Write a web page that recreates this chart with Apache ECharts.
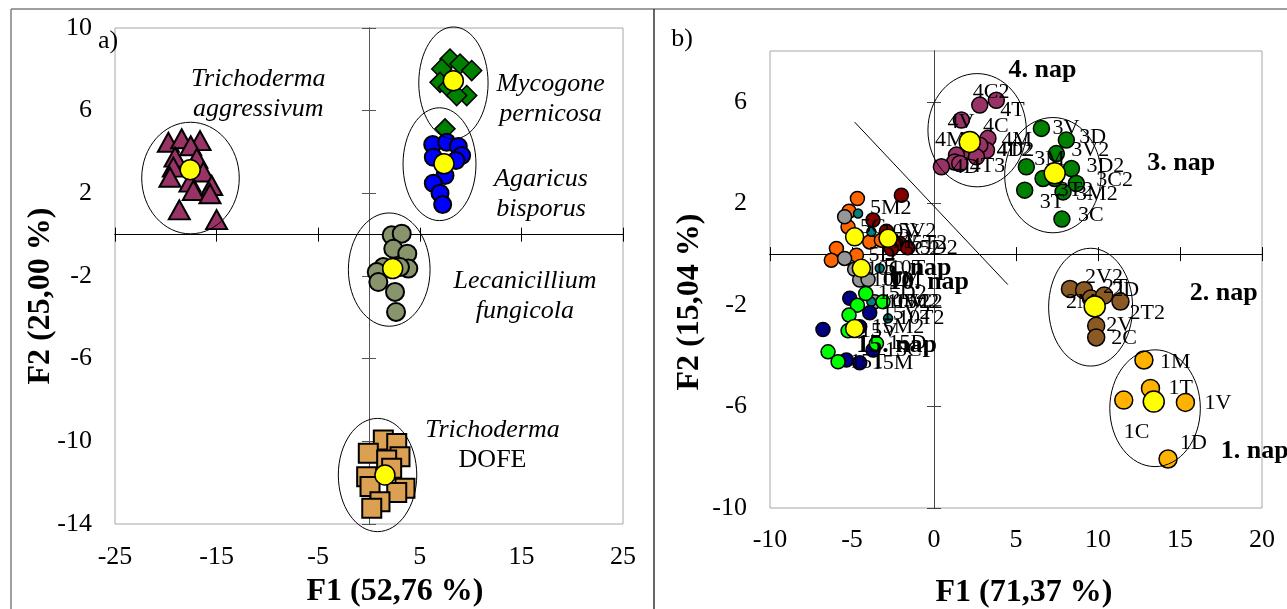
<!DOCTYPE html>
<html><head><meta charset="utf-8">
<script src="https://cdn.jsdelivr.net/npm/echarts@6/dist/echarts.min.js"></script>
<style>html,body{margin:0;padding:0;background:#fff}#c{width:1287px;height:609px}</style>
</head><body><div id="c"></div>
<script>
// ---------- Panel a data ----------
const aXTicks = [-25, -15, -5, 5, 15, 25];
const aYTicks = [-14, -10, -6, -2, 2, 6, 10];
const aggressivum = [[-19.75,4.47],[-18.44,4.64],[-16.63,4.55],[-17.55,4.3],[-19.09,3.75],[-16.95,3.69],[-19.26,3.27],[-19.59,2.78],[-16.31,3.03],[-17.62,2.54],[-17.29,2.14],[-15.48,2.38],[-15.65,1.98],[-18.67,1.2],[-15.0,0.73]];
const pernicosa = [[7.97,8.5],[8.96,8.26],[10.11,7.94],[7.16,8.02],[6.99,7.37],[7.8,7.13],[9.62,6.73],[8.63,6.73],[7.48,5.12]];
const bisporus = [[6.27,4.36],[7.65,4.47],[8.79,4.27],[9.12,3.83],[6.33,3.75],[8.56,3.59],[7.48,2.86],[6.33,2.49],[6.99,2.01],[7.25,1.46]];
const fungicola = [[2.23,-0.03],[3.22,0.05],[2.39,-0.68],[3.77,-0.92],[3.87,-1.64],[3.05,-1.57],[1.41,-1.57],[0.76,-1.81],[0.92,-2.29],[2.56,-2.77],[2.66,-3.74]];
const dofe = [[1.41,-9.94],[2.73,-10.1],[-0.07,-10.58],[3.05,-10.74],[1.74,-10.9],[2.23,-11.3],[-0.23,-11.71],[0.1,-12.19],[3.54,-12.27],[2.73,-12.48],[1.08,-12.92],[0.27,-13.24]];
const aCentroids = [[-17.6,3.14],[8.3,7.45],[7.38,3.43],[2.33,-1.64],[1.57,-11.63]];
const aEllipses = [[-17.57,2.74,4.8,2.7],[8.31,7.34,3.41,2.71],[6.94,3.41,3.59,2.73],[1.99,-1.69,4.02,2.74],[0.84,-11.63,3.86,2.74]];
const aNotes = [[-10.9,6.81,'Trichoderma','aggressivum'],[17.87,6.57,'Mycogone','pernicosa'],[16.93,1.98,'Agaricus','bisporus'],[15.35,-3.0,'Lecanicillium','fungicola'],[12.16,-10.2,'Trichoderma','DOFE']];

// ---------- Panel b data ----------
const bXTicks = [-10, -5, 0, 5, 10, 15, 20];
const bYTicks = [-10, -6, -2, 2, 6];
const nap1 = [[12.8,-4.17,'1M'],[13.2,-5.29,'1T'],[11.57,-5.75,'1C'],[15.33,-5.84,'1V'],[14.27,-8.07,'1D']];
const nap2 = [[8.29,-1.37,'2M'],[9.15,-1.42,'2V2'],[9.57,-1.75,'2T'],[10.38,-1.63,'2D'],[11.37,-1.87,'2T2'],[9.89,-2.82,'2V'],[9.89,-3.28,'2C']];
const nap3 = [[6.55,4.95,'3V'],[8.07,4.49,'3D'],[7.46,3.96,'3V2'],[5.63,3.44,'3M'],[8.38,3.37,'3D2'],[8.68,2.78,'3C2'],[7.87,2.45,'3M2'],[5.53,2.52,'3T'],[7.36,2.98,'3T2'],[6.65,2.98,''],[7.8,1.38,'3C']];
const nap4 = [[3.8,6.06,'4T'],[2.79,5.87,'4C2'],[1.67,5.28,'4V'],[3.29,4.56,'4C'],[3.2,4.09,'4M'],[2.07,4.09,'4M2'],[2.79,4.29,'4T2'],[2.59,3.83,'4D2'],[1.37,3.9,''],[1.26,3.63,'4D'],[1.57,3.57,'4T3'],[0.45,3.44,'']];
const nap5 = [[-4.67,2.19,''],[-5.18,1.69,''],[-5.24,1.07,'5C'],[-5.95,0.22,''],[-6.26,-0.24,''],[-4.73,-0.04,'5D'],[-3.92,0.48,'5M'],[-3.21,0.55,'5V']];
const nap5b = [[-1.99,2.32,''],[-3.72,1.34,'5M2'],[-2.09,0.42,'5T2'],[-1.6,0.25,'5D2'],[-2.6,0.2,'5C2'],[-2.9,0.9,'5V2']];
const nap10 = [[-5.45,1.47,''],[-5.45,-0.17,''],[-4.84,-0.6,'10C'],[-4.53,-1.02,'10D'],[-4.02,-1.0,'10M'],[-3.62,-1.88,'10M2']];
const nap10b = [[-4.63,1.6,''],[-3.82,0.88,'10V'],[-3.31,-0.56,'10T'],[-3.82,-1.88,'10V2'],[-2.8,-2.53,'10T2']];
const nap15 = [[-5.14,-1.74,''],[-6.77,-2.97,''],[-3.92,-2.31,'15V2'],[-5.34,-4.17,''],[-4.53,-4.28,'15M'],[-3.72,-3.78,'15C'],[-4.53,-2.86,'15M2']];
const nap15b = [[-4.16,-1.55,'15D2'],[-4.67,-2.01,''],[-5.18,-2.4,''],[-5.24,-3.02,'15V'],[-6.46,-3.85,''],[-5.85,-4.24,'15T'],[-3.11,-1.88,'15C2'],[-3.51,-3.52,'15D']];
const bCentroids = [[13.4,-5.81],[9.8,-2.06],[7.36,3.18],[2.18,4.42]];
const bCentroidsLeft = [[-4.84,0.68],[-4.43,-0.56],[-2.8,0.62],[-4.84,-2.93]];
const bEllipses = [[13.48,-6.07,2.76,2.3],[9.55,-2.09,2.56,2.32],[7.25,3.11,2.94,2.27],[2.63,4.88,3.0,2.23]];
const divider = [[-4.84,5.2],[4.5,-1.2]];
const napNames = [[6.61,7.24,'4. nap'],[15.08,3.59,'3. nap'],[17.67,-1.55,'2. nap'],[19.56,-7.78,'1. nap'],[-1.0,-0.55,'5. nap'],[-0.33,-1.1,'10. nap'],[-2.28,-3.58,'15. nap']];

// label placement (style): text-left / text-middle offset from point centre, px
const labelOffset = {
 '1M':[16,2],'1T':[18,0],'1V':[19,1],'1C':[0,32],'1D':[12,-16],
 '2M':[-4,13],'2V2':[1,-13],'2T':[12,-11],'2D':[8,-5],'2T2':[9,12],'2V':[10,0],'2C':[15,1],
 '3V':[11,0],'3D':[13,-3],'3V2':[15,-3],'3M':[8,-8],'3D2':[15,-2],'3C2':[20,-3],'3M2':[13,2],'3T':[15,12],'3T2':[3,12],'3C':[16,-4],
 '4C2':[-7,-13],'4T':[4,10],'4V':[-14,2],'4C':[-5,-12],'4M':[15,-10],'4M2':[-33,-10],'4D2':[20,-7],'4T2':[17,5],'4D':[-2,5],'4T3':[10,3],
 '5M2':[-3,-12]
};

const FONT = "'Liberation Serif','Times New Roman',serif";

function labelAxis(grid, min, max, values, margin, pos) {
  return {type:'value', gridIndex:grid, min:min, max:max, position:pos,
    axisLine:{show:false,onZero:false}, axisTick:{show:false}, splitLine:{show:false},
    axisLabel:{show:true, customValues:values, margin:margin, fontSize:26, fontFamily:FONT, color:'#000'}};
}
function zeroAxis(grid, min, max, values, pos, onZeroIdx, color) {
  return {type:'value', gridIndex:grid, min:min, max:max, position:pos,
    axisLine:{show:true,onZero:true,onZeroAxisIndex:onZeroIdx,lineStyle:{color:color,width:1}},
    axisTick:{show:true,customValues:values,length:7,lineStyle:{color:color,width:1}},
    axisLabel:{show:false}, splitLine:{show:false}};
}

function aScatter(data, symbol, size, color, bw) {
  return {type:'scatter', xAxisIndex:0, yAxisIndex:0, symbol:symbol, symbolSize:size, silent:true,
    itemStyle:{color:color, borderColor:'#000', borderWidth:bw, opacity:1}, data:data, z:3};
}
function bScatter(data, color, size, fs) {
  return {type:'scatter', xAxisIndex:3, yAxisIndex:3, symbol:'circle', symbolSize:size, silent:true,
    itemStyle:{color:color, borderColor:'#000', borderWidth:1.5, opacity:1},
    data:data.map(d => ({value:[d[0],d[1]], name:d[2], label:{offset: labelOffset[d[2]] || [Math.round(size/2)+5,0]}})),
    label:{show:true, position:'inside', align:'left', verticalAlign:'middle', formatter:p => p.name,
      fontFamily:FONT, fontSize:fs || 22, color:'#000'},
    z:3};
}
function ellipseSeries(xi, data) {
  return {type:'custom', xAxisIndex:xi, yAxisIndex:xi, coordinateSystem:'cartesian2d', silent:true, clip:false, z:6,
    data:data,
    renderItem:function(params, api){
      const c = api.coord([api.value(0), api.value(1)]);
      const s = api.size([api.value(2), api.value(3)]);
      return {type:'ellipse', shape:{cx:c[0], cy:c[1], rx:s[0], ry:s[1]}, style:{fill:null, stroke:'#000', lineWidth:1}};
    }};
}

const chart = echarts.init(document.getElementById('c'), null, {renderer:'canvas'});
chart.setOption({
  animation:false,
  backgroundColor:'#fff',
  grid:[
    {left:115, top:28, width:508, height:496, show:true, borderColor:'#a6a6a6', borderWidth:1, backgroundColor:'transparent'},
    {left:770, top:51, width:492, height:457, show:true, borderColor:'#a6a6a6', borderWidth:1, backgroundColor:'transparent'}
  ],
  xAxis:[
    labelAxis(0,-25,25,aXTicks,20,'bottom'),
    zeroAxis(0,-25,25,aXTicks,'bottom',0,'#000'),
    zeroAxis(0,-25,25,aXTicks,'top',0,'#000'),
    labelAxis(1,-10,20,bXTicks,19,'bottom'),
    zeroAxis(1,-10,20,bXTicks,'bottom',3,'#000'),
    zeroAxis(1,-10,20,bXTicks,'top',3,'#000')
  ],
  yAxis:[
    labelAxis(0,-14,10,aYTicks,23,'left'),
    zeroAxis(0,-14,10,aYTicks,'left',0,'#555'),
    zeroAxis(0,-14,10,aYTicks,'right',0,'#555'),
    labelAxis(1,-10,8,bYTicks,23,'left'),
    zeroAxis(1,-10,8,bYTicks,'left',3,'#444'),
    zeroAxis(1,-10,8,bYTicks,'right',3,'#444')
  ],
  graphic:[
    {type:'line', shape:{x1:11,y1:9,x2:1287,y2:9}, style:{stroke:'#7f7f7f', lineWidth:1.5}},
    {type:'line', shape:{x1:11,y1:9,x2:11,y2:609}, style:{stroke:'#7f7f7f', lineWidth:1.5}},
    {type:'line', shape:{x1:654,y1:9,x2:654,y2:609}, style:{stroke:'#333', lineWidth:1.5}},
    {type:'text', x:108, y:41, style:{text:'a)', font:'26px '+FONT, fill:'#000', align:'center', verticalAlign:'middle', textAlign:'center', textVerticalAlign:'middle'}},
    {type:'text', x:682, y:39, style:{text:'b)', font:'26px '+FONT, fill:'#000', align:'center', verticalAlign:'middle', textAlign:'center', textVerticalAlign:'middle'}},
    {type:'text', x:395, y:592, style:{text:'F1 (52,76 %)', font:'bold 32px '+FONT, fill:'#000', align:'center', verticalAlign:'middle', textAlign:'center', textVerticalAlign:'middle'}},
    {type:'text', x:1024, y:593, style:{text:'F1 (71,37 %)', font:'bold 32px '+FONT, fill:'#000', align:'center', verticalAlign:'middle', textAlign:'center', textVerticalAlign:'middle'}},
    {type:'text', x:41, y:296, rotation:Math.PI/2, style:{text:'F2 (25,00 %)', font:'bold 32px '+FONT, fill:'#000', align:'center', verticalAlign:'middle', textAlign:'center', textVerticalAlign:'middle'}},
    {type:'text', x:690, y:302, rotation:Math.PI/2, style:{text:'F2 (15,04 %)', font:'bold 32px '+FONT, fill:'#000', align:'center', verticalAlign:'middle', textAlign:'center', textVerticalAlign:'middle'}}
  ],
  series:[
    aScatter(aggressivum,'triangle',[21,19],'#993366',2),
    aScatter(pernicosa,'diamond',20,'#008000',1.5),
    aScatter(bisporus,'circle',17,'#0000ff',2),
    aScatter(fungicola,'circle',18,'#88946c',2),
    aScatter(dofe,'rect',19,'#dba052',2),
    Object.assign(aScatter(aCentroids,'circle',20,'#ffff00',1.5),{z:5}),
    ellipseSeries(0,aEllipses),
    {type:'scatter', xAxisIndex:0, yAxisIndex:0, symbolSize:1, silent:true, z:7,
      itemStyle:{color:'rgba(0,0,0,0)', opacity:1},
      data:aNotes.map(n => ({value:[n[0],n[1]], name:n[2]+'\n'+n[3]})),
      label:{show:true, position:'inside', align:'center', verticalAlign:'middle', opacity:1,
        formatter:p => p.name.split('\n').map(w => /^[A-Z]+$/.test(w) ? '{n|'+w+'}' : '{i|'+w+'}').join('\n'),
        rich:{i:{fontStyle:'italic', fontSize:26, fontFamily:FONT, lineHeight:30, color:'#000'},
              n:{fontSize:26, fontFamily:FONT, lineHeight:30, color:'#000'}}}},

    {type:'line', xAxisIndex:3, yAxisIndex:3, data:divider, symbol:'none', silent:true, lineStyle:{color:'#000', width:1}, z:2},
    bScatter(nap5,'#ff6600',14),
    bScatter(nap10,'#969696',14),
    bScatter(nap10b,'#008080',9),
    bScatter(nap5b,'#800000',14),
    bScatter(nap15,'#000080',14),
    bScatter(nap15b,'#00ff00',14),
    bScatter(nap1,'#ffb300',18),
    bScatter(nap2,'#8b5a24',17),
    bScatter(nap3,'#008000',16),
    bScatter(nap4,'#993366',16),
    Object.assign(bScatter(bCentroids.map(c=>[c[0],c[1],'']),'#ffff00',21),{z:5}),
    Object.assign(bScatter(bCentroidsLeft.map(c=>[c[0],c[1],'']),'#ffff00',18),{z:4}),
    ellipseSeries(3,bEllipses),
    {type:'scatter', xAxisIndex:3, yAxisIndex:3, symbolSize:1, silent:true, z:7,
      itemStyle:{color:'rgba(0,0,0,0)', opacity:1},
      data:napNames.map(n => ({value:[n[0],n[1]], name:n[2]})),
      label:{show:true, position:'inside', align:'center', verticalAlign:'middle', formatter:p => p.name, opacity:1,
        fontFamily:FONT, fontSize:26, fontWeight:'bold', color:'#000'}}
  ]
});
</script></body></html>
